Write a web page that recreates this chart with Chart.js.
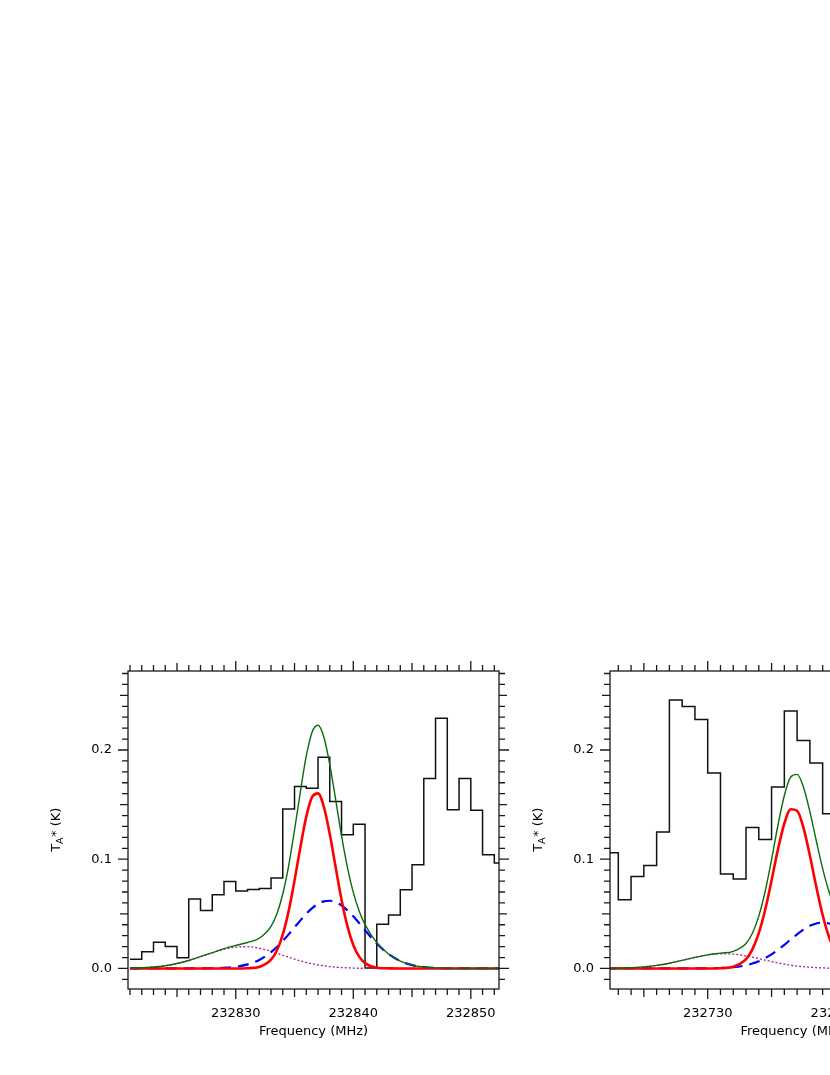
<!DOCTYPE html>
<html>
<head>
<meta charset="utf-8">
<script src="https://cdn.jsdelivr.net/npm/chart.js@4.4.0/dist/chart.umd.min.js"></script>
<style>
  html, body { margin: 0; padding: 0; background: #fff; overflow: hidden; }
  body { width: 830px; height: 1075px; position: relative; }
  .panel { position: absolute; top: 640px; height: 435px; }
</style>
</head>
<body>
<div class="panel" style="left:0px;width:540px"><canvas id="c1"></canvas></div>
<div class="panel" style="left:530px;width:500px"><canvas id="c2"></canvas></div>
<script>
// ---- left panel: observed channels (bin edges, MHz) and T_A* (K)
var edges1 = [232821, 232822, 232823, 232824, 232825, 232826, 232827, 232828, 232829, 232830,
  232831, 232832, 232833, 232834, 232835, 232836, 232837, 232838, 232839, 232840,
  232841, 232842, 232843, 232844, 232845, 232846, 232847, 232848, 232849, 232850,
  232851, 232852, 232853];
var spec1 = [0.0085, 0.0154, 0.024, 0.020, 0.0099, 0.0635, 0.053, 0.0674, 0.0796, 0.071,
  0.0723, 0.0732, 0.0827, 0.146, 0.1665, 0.165, 0.1934, 0.1528, 0.1225, 0.132,
  0.0005, 0.0405, 0.049, 0.072, 0.095, 0.174, 0.229, 0.1454, 0.174, 0.1448,
  0.104, 0.0965];

// left panel: fitted components
var fitX1 = [232821, 232822, 232823, 232824, 232825, 232826, 232827, 232828, 232829, 232830,
  232831, 232832, 232833, 232833.5, 232834, 232834.5, 232835, 232835.5, 232836, 232836.5,
  232837, 232837.5, 232838, 232838.5, 232839, 232839.5, 232840, 232840.5, 232841, 232842,
  232843, 232844, 232845, 232846, 232847, 232848, 232850, 232852.5];
var total1 = [0.0003, 0.0006, 0.0013, 0.0025, 0.0045, 0.0073, 0.0108, 0.0145, 0.0181, 0.0211,
  0.0238, 0.0277, 0.0386, 0.0501, 0.0682, 0.094, 0.1266, 0.1619, 0.1945, 0.2165,
  0.2226, 0.2116, 0.1867, 0.1546, 0.1215, 0.0926, 0.0696, 0.0525, 0.0401, 0.0236,
  0.0133, 0.0068, 0.0031, 0.0013, 0.0005, 0.0001, 0, 0];
var narrow1 = [0, 0, 0, 0, 0, 0, 0, 0, 0, 0,
  0.0002, 0.0014, 0.008, 0.0165, 0.031, 0.0525, 0.0804, 0.111, 0.139, 0.157,
  0.1603, 0.1478, 0.123, 0.0927, 0.063, 0.0388, 0.0215, 0.0108, 0.0049, 0.0007,
  0.0001, 0, 0, 0, 0, 0, 0, 0];
var broad1 = [0, 0, 0, 0, 0, 0, 0.0001, 0.0002, 0.0006, 0.0015,
  0.0037, 0.0078, 0.0149, 0.0196, 0.0251, 0.0312, 0.0376, 0.044, 0.050, 0.0552,
  0.0591, 0.0614, 0.062, 0.0607, 0.0577, 0.0532, 0.0477, 0.0415, 0.035, 0.0228,
  0.0132, 0.0068, 0.0031, 0.0013, 0.0005, 0.0001, 0, 0];
var wing1 = [0.0003, 0.0006, 0.0013, 0.0025, 0.0045, 0.0073, 0.0107, 0.0143, 0.0175, 0.0196,
  0.0199, 0.0185, 0.0157, 0.014, 0.0121, 0.0103, 0.0086, 0.0069, 0.0055, 0.0043,
  0.0032, 0.0024, 0.0017, 0.0012, 0.0008, 0.0006, 0.0004, 0.0002, 0.0002, 0.0001,
  0, 0, 0, 0, 0, 0, 0, 0];

// ---- right panel
var edges2 = [232722, 232723, 232724, 232725, 232726, 232727, 232728, 232729, 232730, 232731,
  232732, 232733, 232734, 232735, 232736, 232737, 232738, 232739, 232740];
var spec2 = [0.106, 0.0628, 0.0842, 0.0943, 0.125, 0.2457, 0.2397, 0.228, 0.179, 0.0864,
  0.0818, 0.129, 0.118, 0.166, 0.2356, 0.2087, 0.188, 0.1417];

var fitX2 = [232722, 232723, 232724, 232725, 232726, 232727, 232728, 232729, 232730, 232731,
  232732, 232733, 232733.5, 232734, 232734.5, 232735, 232735.5, 232736, 232736.5, 232737,
  232737.5, 232738, 232738.5, 232739, 232739.5, 232740, 232740.5, 232741];
var total2 = [0.0001, 0.0003, 0.0007, 0.0015, 0.0028, 0.0048, 0.0074, 0.0101, 0.0124, 0.014,
  0.0157, 0.0229, 0.0323, 0.0479, 0.0707, 0.0997, 0.1311, 0.1583, 0.1753, 0.1777,
  0.1659, 0.1435, 0.1169, 0.0914, 0.0703, 0.0544, 0.043, 0.0344];
var narrow2 = [0, 0, 0, 0, 0, 0, 0, 0, 0, 0.0002,
  0.0015, 0.0085, 0.0175, 0.0323, 0.0537, 0.0805, 0.109, 0.1327, 0.1458, 0.1443,
  0.1287, 0.1034, 0.0749, 0.0489, 0.0288, 0.0152, 0.0073, 0.0031];
var broad2 = [0, 0, 0, 0, 0, 0, 0, 0, 0.0001, 0.0004,
  0.0011, 0.0029, 0.0045, 0.0066, 0.0094, 0.0129, 0.017, 0.0216, 0.0265, 0.0312,
  0.0356, 0.039, 0.0412, 0.042, 0.0412, 0.039, 0.0356, 0.0312];
var wing2 = [0.0001, 0.0003, 0.0007, 0.0015, 0.0028, 0.0048, 0.0074, 0.0101, 0.0123, 0.0134,
  0.0131, 0.0115, 0.0103, 0.009, 0.0076, 0.0063, 0.0051, 0.004, 0.003, 0.0022,
  0.0016, 0.0011, 0.0008, 0.0005, 0.0003, 0.0002, 0.0001, 0.0001];

var yTickLabels = ['0.0', '0.1', '0.2'];

Chart.defaults.font.family = "'DejaVu Sans', sans-serif";
Chart.defaults.font.size = 13;
Chart.defaults.color = '#000';

function pts(xs, ys) {
  return xs.map(function (x, i) { return { x: x, y: ys[i] }; });
}
function steps(edges, vals) {
  return edges.map(function (x, i) { return { x: x, y: vals[Math.min(i, vals.length - 1)] }; });
}

// box + outward ticks on all four sides, and the T_A* (K) title
var framePlugin = {
  id: 'frame',
  afterDraw: function (chart) {
    var ctx = chart.ctx, a = chart.chartArea;
    var xs = chart.scales.x, ys = chart.scales.y;
    ctx.save();
    ctx.strokeStyle = '#1a1a1a';
    ctx.lineWidth = 1.3;
    ctx.strokeRect(a.left, a.top, a.right - a.left, a.bottom - a.top);
    ctx.beginPath();
    for (var f = Math.ceil(xs.min); f <= xs.max; f++) {
      var len = f % 10 === 0 ? 10 : (f % 5 === 0 ? 8 : 6);
      var px = xs.getPixelForValue(f);
      ctx.moveTo(px, a.bottom); ctx.lineTo(px, a.bottom + len);
      ctx.moveTo(px, a.top); ctx.lineTo(px, a.top - len);
    }
    for (var k = Math.ceil(ys.min * 100); k <= Math.floor(ys.max * 100); k++) {
      var l2 = k % 10 === 0 ? 10 : (k % 5 === 0 ? 8 : 6);
      var py = ys.getPixelForValue(k / 100);
      ctx.moveTo(a.left, py); ctx.lineTo(a.left - l2, py);
      ctx.moveTo(a.right, py); ctx.lineTo(a.right + l2, py);
    }
    ctx.stroke();

    // y title, rotated, with subscript A
    var cx = a.left - 73, cy = (a.top + a.bottom) / 2;
    ctx.translate(cx, cy);
    ctx.rotate(-Math.PI / 2);
    ctx.fillStyle = '#000';
    ctx.textBaseline = 'alphabetic';
    ctx.textAlign = 'left';
    var big = "13px 'DejaVu Sans'", small = "9.5px 'DejaVu Sans'";
    ctx.font = big; var wT = ctx.measureText('T').width; var wR = ctx.measureText('* (K)').width;
    ctx.font = small; var wA = ctx.measureText('A').width;
    var x0 = -(wT + wA + wR) / 2;
    ctx.font = big; ctx.fillText('T', x0, 5);
    ctx.font = small; ctx.fillText('A', x0 + wT, 8);
    ctx.font = big; ctx.fillText('* (K)', x0 + wT + wA + 0.5, 5);
    ctx.restore();
  }
};

function makeChart(id, cfg) {
  return new Chart(document.getElementById(id), {
    type: 'line',
    data: {
      datasets: [
        { data: pts(cfg.fitX, cfg.total), borderColor: '#0b6b0b', borderWidth: 1.4,
          cubicInterpolationMode: 'monotone' },
        { data: pts(cfg.fitX, cfg.narrow), borderColor: '#ff0000', borderWidth: 2.6,
          cubicInterpolationMode: 'monotone' },
        { data: pts(cfg.fitX, cfg.broad), borderColor: '#0000ff', borderWidth: 2.2,
          borderDash: [11, 7], cubicInterpolationMode: 'monotone' },
        { data: pts(cfg.fitX, cfg.wing), borderColor: '#a0209a', borderWidth: 1.3,
          borderDash: [2, 2], cubicInterpolationMode: 'monotone' },
        { data: steps(cfg.edges, cfg.spec), borderColor: '#111', borderWidth: 1.5,
          stepped: true }
      ]
    },
    options: {
      responsive: true,
      maintainAspectRatio: false,
      devicePixelRatio: 1,
      animation: false,
      events: [],
      elements: { point: { radius: 0 } },
      layout: { padding: { left: 0, top: 31, right: cfg.padRight, bottom: 0 } },
      plugins: { legend: { display: false }, tooltip: { enabled: false } },
      scales: {
        x: {
          type: 'linear', min: cfg.xmin, max: cfg.xmax,
          grid: { display: false, drawTicks: false },
          border: { display: false },
          ticks: {
            stepSize: 10, includeBounds: false, autoSkip: false, maxRotation: 0,
            padding: 17,
            callback: function (v) { return v % 10 === 0 ? String(v) : ''; }
          },
          title: { display: true, text: 'Frequency (MHz)', padding: { top: 0, bottom: 36 } },
          afterFit: function (s) { s.height = 86; }
        },
        y: {
          type: 'linear', min: -0.0188, max: 0.2723,
          grid: { display: false, drawTicks: false },
          border: { display: false },
          ticks: {
            stepSize: 0.1, includeBounds: false, padding: 16,
            callback: function (v) {
              var i = Math.round(v * 10);
              return yTickLabels[i] !== undefined ? yTickLabels[i] : '';
            }
          },
          afterFit: function (s) { s.width = cfg.yWidth; }
        }
      }
    },
    plugins: [framePlugin]
  });
}

makeChart('c1', {
  edges: edges1, spec: spec1, fitX: fitX1,
  total: total1, narrow: narrow1, broad: broad1, wing: wing1,
  xmin: 232820.83, xmax: 232852.4, yWidth: 128, padRight: 41
});
makeChart('c2', {
  edges: edges2, spec: spec2, fitX: fitX2,
  total: total2, narrow: narrow2, broad: broad2, wing: wing2,
  xmin: 232722.35, xmax: 232751.32, yWidth: 80, padRight: 50
});
</script>
</body>
</html>
